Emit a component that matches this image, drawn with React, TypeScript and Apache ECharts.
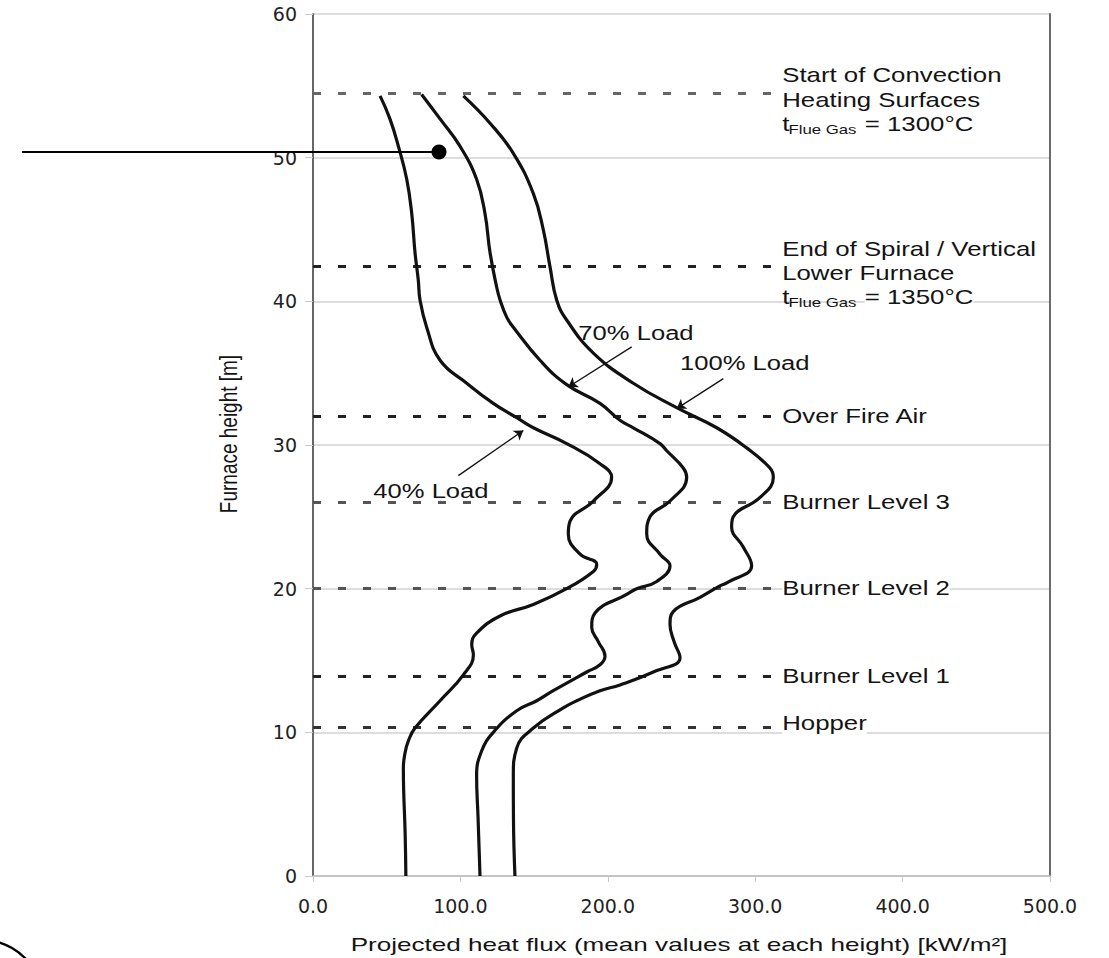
import { useEffect, useRef } from "react";
import * as echarts from "echarts";

// ---------------- data ----------------
const xTickLabels = ["0.0", "100.0", "200.0", "300.0", "400.0", "500.0"];
const yTickLabels = ["0", "10", "20", "30", "40", "50", "60"];

const heights40 = [0, 3, 6, 7.5, 8.6, 9.4, 10.3, 12.2, 14.0, 15.4, 16.1, 16.9, 18.1, 18.9, 20.0, 21.2, 21.7, 22.4, 23.8, 24.7, 26.1, 27.75, 28.7, 30.1, 31.2, 31.9, 32.9, 34.3, 35.9, 38.2, 40.1, 41.5, 43.4, 46.1, 48.5, 50.8, 52.7, 54.3];
const flux40 = [63, 62.5, 61.5, 61.3, 62.5, 64.7, 69.2, 86.2, 102, 108.8, 107.7, 111, 126.9, 149.5, 172.1, 190.2, 192.5, 181.2, 173.2, 174.4, 190.2, 202.6, 194.7, 172.1, 149.5, 138.2, 122.3, 104.3, 86.2, 77.1, 72.6, 71.4, 69.2, 67, 63.6, 57.9, 52.2, 45.5];

const heights70 = [0, 4, 7.0, 8.7, 10.0, 11.5, 12.2, 12.9, 14.2, 14.7, 15.3, 16.3, 17.3, 18.3, 19.6, 20.0, 20.5, 21.6, 22.4, 23.8, 25.0, 26.1, 27.75, 28.4, 29.6, 30.1, 31.2, 31.7, 32.9, 34.2, 35.9, 38.2, 38.9, 40.1, 41.0, 43.4, 46.1, 48.5, 50.8, 52.7, 54.4];
const flux70 = [113.3, 112, 111, 114.4, 122.3, 138.2, 151.8, 163, 185.7, 194.7, 198.1, 193.6, 189.1, 191.3, 212.8, 219.6, 233.2, 242.2, 235.4, 226.4, 228.6, 242.2, 253.5, 251.2, 240, 235.4, 217.3, 208.5, 194.7, 172.1, 154, 135.9, 131.4, 126.9, 124.6, 120.1, 116.7, 111, 99.7, 86.2, 73.7];

const heights100 = [0, 4, 7.0, 8.9, 10.3, 11.7, 12.2, 12.9, 13.3, 14.2, 15.2, 16.3, 17.5, 18.4, 19.4, 20.2, 20.4, 21.6, 22.9, 24.3, 25.0, 26.35, 27.75, 28.4, 29.8, 31.2, 32.6, 34.3, 36.4, 38.7, 40.1, 42.4, 45.0, 47.5, 50.3, 52.4, 54.3];
const flux100 = [137, 136, 135.9, 138.2, 149.5, 169.8, 178.9, 194.7, 208.3, 230.9, 249, 245, 242.2, 244.4, 262.6, 276.1, 280.7, 297.6, 291.9, 284, 285.1, 303.3, 312.3, 310, 294.2, 273.9, 246.7, 217.3, 190.2, 172.1, 165.3, 160.8, 156.2, 149.5, 135.9, 120.1, 102];

// reference levels (furnace height, m)
const levelHeights = [54.5, 42.45, 32.0, 26.0, 20.05, 13.9, 10.35];
const levelTitles = [
  ["Start of Convection", "Heating Surfaces"],
  ["End of Spiral / Vertical", "Lower Furnace"],
  ["Over Fire Air"],
  ["Burner Level 3"],
  ["Burner Level 2"],
  ["Burner Level 1"],
  ["Hopper"],
];
const flueGasTemps = ["1300°C", "1350°C", "", "", "", "", ""];
const levelColors = ["#666", "#222", "#222", "#555", "#555", "#222", "#333"];
const levelDashEnd = 311.5;
const levelLabelX = 318.3;

// load annotations
const loadNames = ["40% Load", "70% Load", "100% Load"];
const loadLabelPos = [[40.9, 26.8], [180, 37.8], [249, 35.7]];
const loadArrowFrom = [[98.6, 27.87], [216.2, 36.83], [278.4, 34.62]];
const loadArrowTo = [[142.7, 31.01], [173.2, 34.04], [246.7, 32.53]];

const xTitle = "Projected heat flux (mean values at each height) [kW/m²]";
const yTitle = "Furnace height [m]";

const FONT = '"Liberation Sans", Arial, sans-serif';

function pairs(hs: number[], fs: number[]) {
  return hs.map((h, i) => [fs[i], h]);
}

function txt(text: string, x: number, y: number, size: number, o: any = {}) {
  const align = o.align || "left";
  return {
    type: "text",
    x,
    y,
    scaleX: o.scaleX ?? 1.29,
    scaleY: o.scaleY ?? 1,
    rotation: o.rotation || 0,
    z: o.z ?? 50,
    style: {
      text,
      fill: o.fill || "#141414",
      font: `${size}px ${FONT}`,
      align,
      verticalAlign: "middle",
      textAlign: align,
      textVerticalAlign: "middle",
      backgroundColor: o.bg,
      padding: o.pad,
    },
  };
}

export default function App() {
  const ref = useRef<HTMLDivElement>(null);

  useEffect(() => {
    const el = ref.current!;
    const chart = echarts.init(el, null, { renderer: "svg" });

    const curveStyle = { color: "#111", width: 3.2 };
    const levelLines = levelHeights.map((h, i) => [
      { coord: [0, h], lineStyle: { color: levelColors[i], type: [8, 17], width: 3 } },
      { coord: [levelDashEnd, h] },
    ]);
    const arrowLines = loadArrowFrom.map((p, i) => [{ coord: p }, { coord: loadArrowTo[i] }]);

    chart.setOption({
      animation: false,
      backgroundColor: "#fff",
      grid: { left: 313, right: 59, top: 14, bottom: 82 },
      xAxis: {
        type: "value",
        min: 0,
        max: 500,
        interval: 100,
        axisLine: { show: true, onZero: false, lineStyle: { color: "#bdbdbd", width: 1.5 } },
        axisTick: { show: true, length: 6, lineStyle: { color: "#c8c8c8" } },
        axisLabel: {
          formatter: (v: number) => xTickLabels[Math.round(v / 100)],
          fontFamily: "DejaVu Sans",
          fontSize: 19,
          color: "#222",
          margin: 20,
        },
        splitLine: { show: false },
      },
      yAxis: [
        {
          type: "value",
          min: 0,
          max: 60,
          interval: 10,
          axisLine: { show: true, lineStyle: { color: "#333", width: 1.5 } },
          axisTick: { show: true, length: 8, lineStyle: { color: "#c8c8c8" } },
          axisLabel: {
            formatter: (v: number) => yTickLabels[Math.round(v / 10)],
            fontFamily: "DejaVu Sans",
            fontSize: 19,
            color: "#222",
            margin: 16,
          },
          splitLine: { show: true, lineStyle: { color: "#d2d2d2", width: 1.5 } },
        },
        {
          type: "value",
          position: "right",
          min: 0,
          max: 60,
          interval: 10,
          axisLine: { show: true, lineStyle: { color: "#6a6a6a", width: 2 } },
          axisTick: { show: false },
          axisLabel: { show: false },
          splitLine: { show: false },
        },
      ],
      series: [
        {
          type: "line",
          name: loadNames[0],
          data: pairs(heights40, flux40),
          smooth: 0.45,
          symbol: "none",
          lineStyle: curveStyle,
          z: 3,
          markLine: {
            silent: true,
            symbol: ["none", "none"],
            label: { show: false },
            z: 1,
            data: levelLines,
          },
        },
        {
          type: "line",
          name: loadNames[1],
          data: pairs(heights70, flux70),
          smooth: 0.45,
          symbol: "none",
          lineStyle: curveStyle,
          z: 3,
        },
        {
          type: "line",
          name: loadNames[2],
          data: pairs(heights100, flux100),
          smooth: 0.45,
          symbol: "none",
          lineStyle: curveStyle,
          z: 3,
          markLine: {
            silent: true,
            symbol: ["none", "arrow"],
            symbolSize: 9,
            label: { show: false },
            lineStyle: { color: "#111", width: 1.3, type: "solid" },
            z: 6,
            data: arrowLines,
          },
        },
      ],
    });

    const px = (x: number, y: number) =>
      chart.convertToPixel({ gridIndex: 0 } as any, [x, y]) as unknown as number[];

    const g: any[] = [];
    // level labels
    levelHeights.forEach((h, i) => {
      const [lx, ly] = px(levelLabelX, h);
      const lines = levelTitles[i];
      if (lines.length === 1) {
        const dy = i === 6 ? -4 : 0;
        g.push(txt(lines[0], lx, ly + dy, 20, { bg: "#fff", pad: [1, 0] }));
      } else {
        g.push(txt(lines[0], lx, ly - 17.5, 20, { bg: "#fff", pad: [1, 0] }));
        g.push(txt(lines[1], lx, ly + 7, 20, { bg: "#fff", pad: [1, 0] }));
        g.push(txt("= " + flueGasTemps[i], lx + 82.6, ly + 31, 20, { bg: "#fff", pad: [1, 0], z: 50 }));
        g.push(txt("Flue Gas", lx + 6.3, ly + 36.5, 13, { z: 51 }));
        g.push(txt("t", lx, ly + 31, 20, { z: 52 }));
      }
    });
    // load labels
    loadNames.forEach((n, i) => {
      const [lx, ly] = px(loadLabelPos[i][0], loadLabelPos[i][1]);
      g.push(txt(n, lx, ly, 20, { scaleX: 1.28 }));
    });
    // axis titles
    g.push(txt(xTitle, 679, 945, 18.5, { align: "center", scaleX: 1.41 }));
    g.push(txt(yTitle, 229, 434, 19, { align: "center", scaleX: 1, scaleY: 1.3, rotation: Math.PI / 2 }));
    // overlay annotation marks
    g.push({ type: "line", z: 60, shape: { x1: 22, y1: 152, x2: 438, y2: 152 }, style: { stroke: "#000", lineWidth: 2 } });
    g.push({ type: "circle", z: 61, shape: { cx: 439, cy: 152, r: 7.5 }, style: { fill: "#000" } });
    g.push({ type: "circle", z: 60, shape: { cx: -18, cy: 1000, r: 60 }, style: { fill: "none", stroke: "#000", lineWidth: 2.5 } });

    chart.setOption({ graphic: { elements: g } });

    return () => chart.dispose();
  }, []);

  return (
    <div
      ref={ref}
      style={{ position: "fixed", left: 0, top: 0, width: 1109, height: 958, background: "#fff" }}
    />
  );
}
